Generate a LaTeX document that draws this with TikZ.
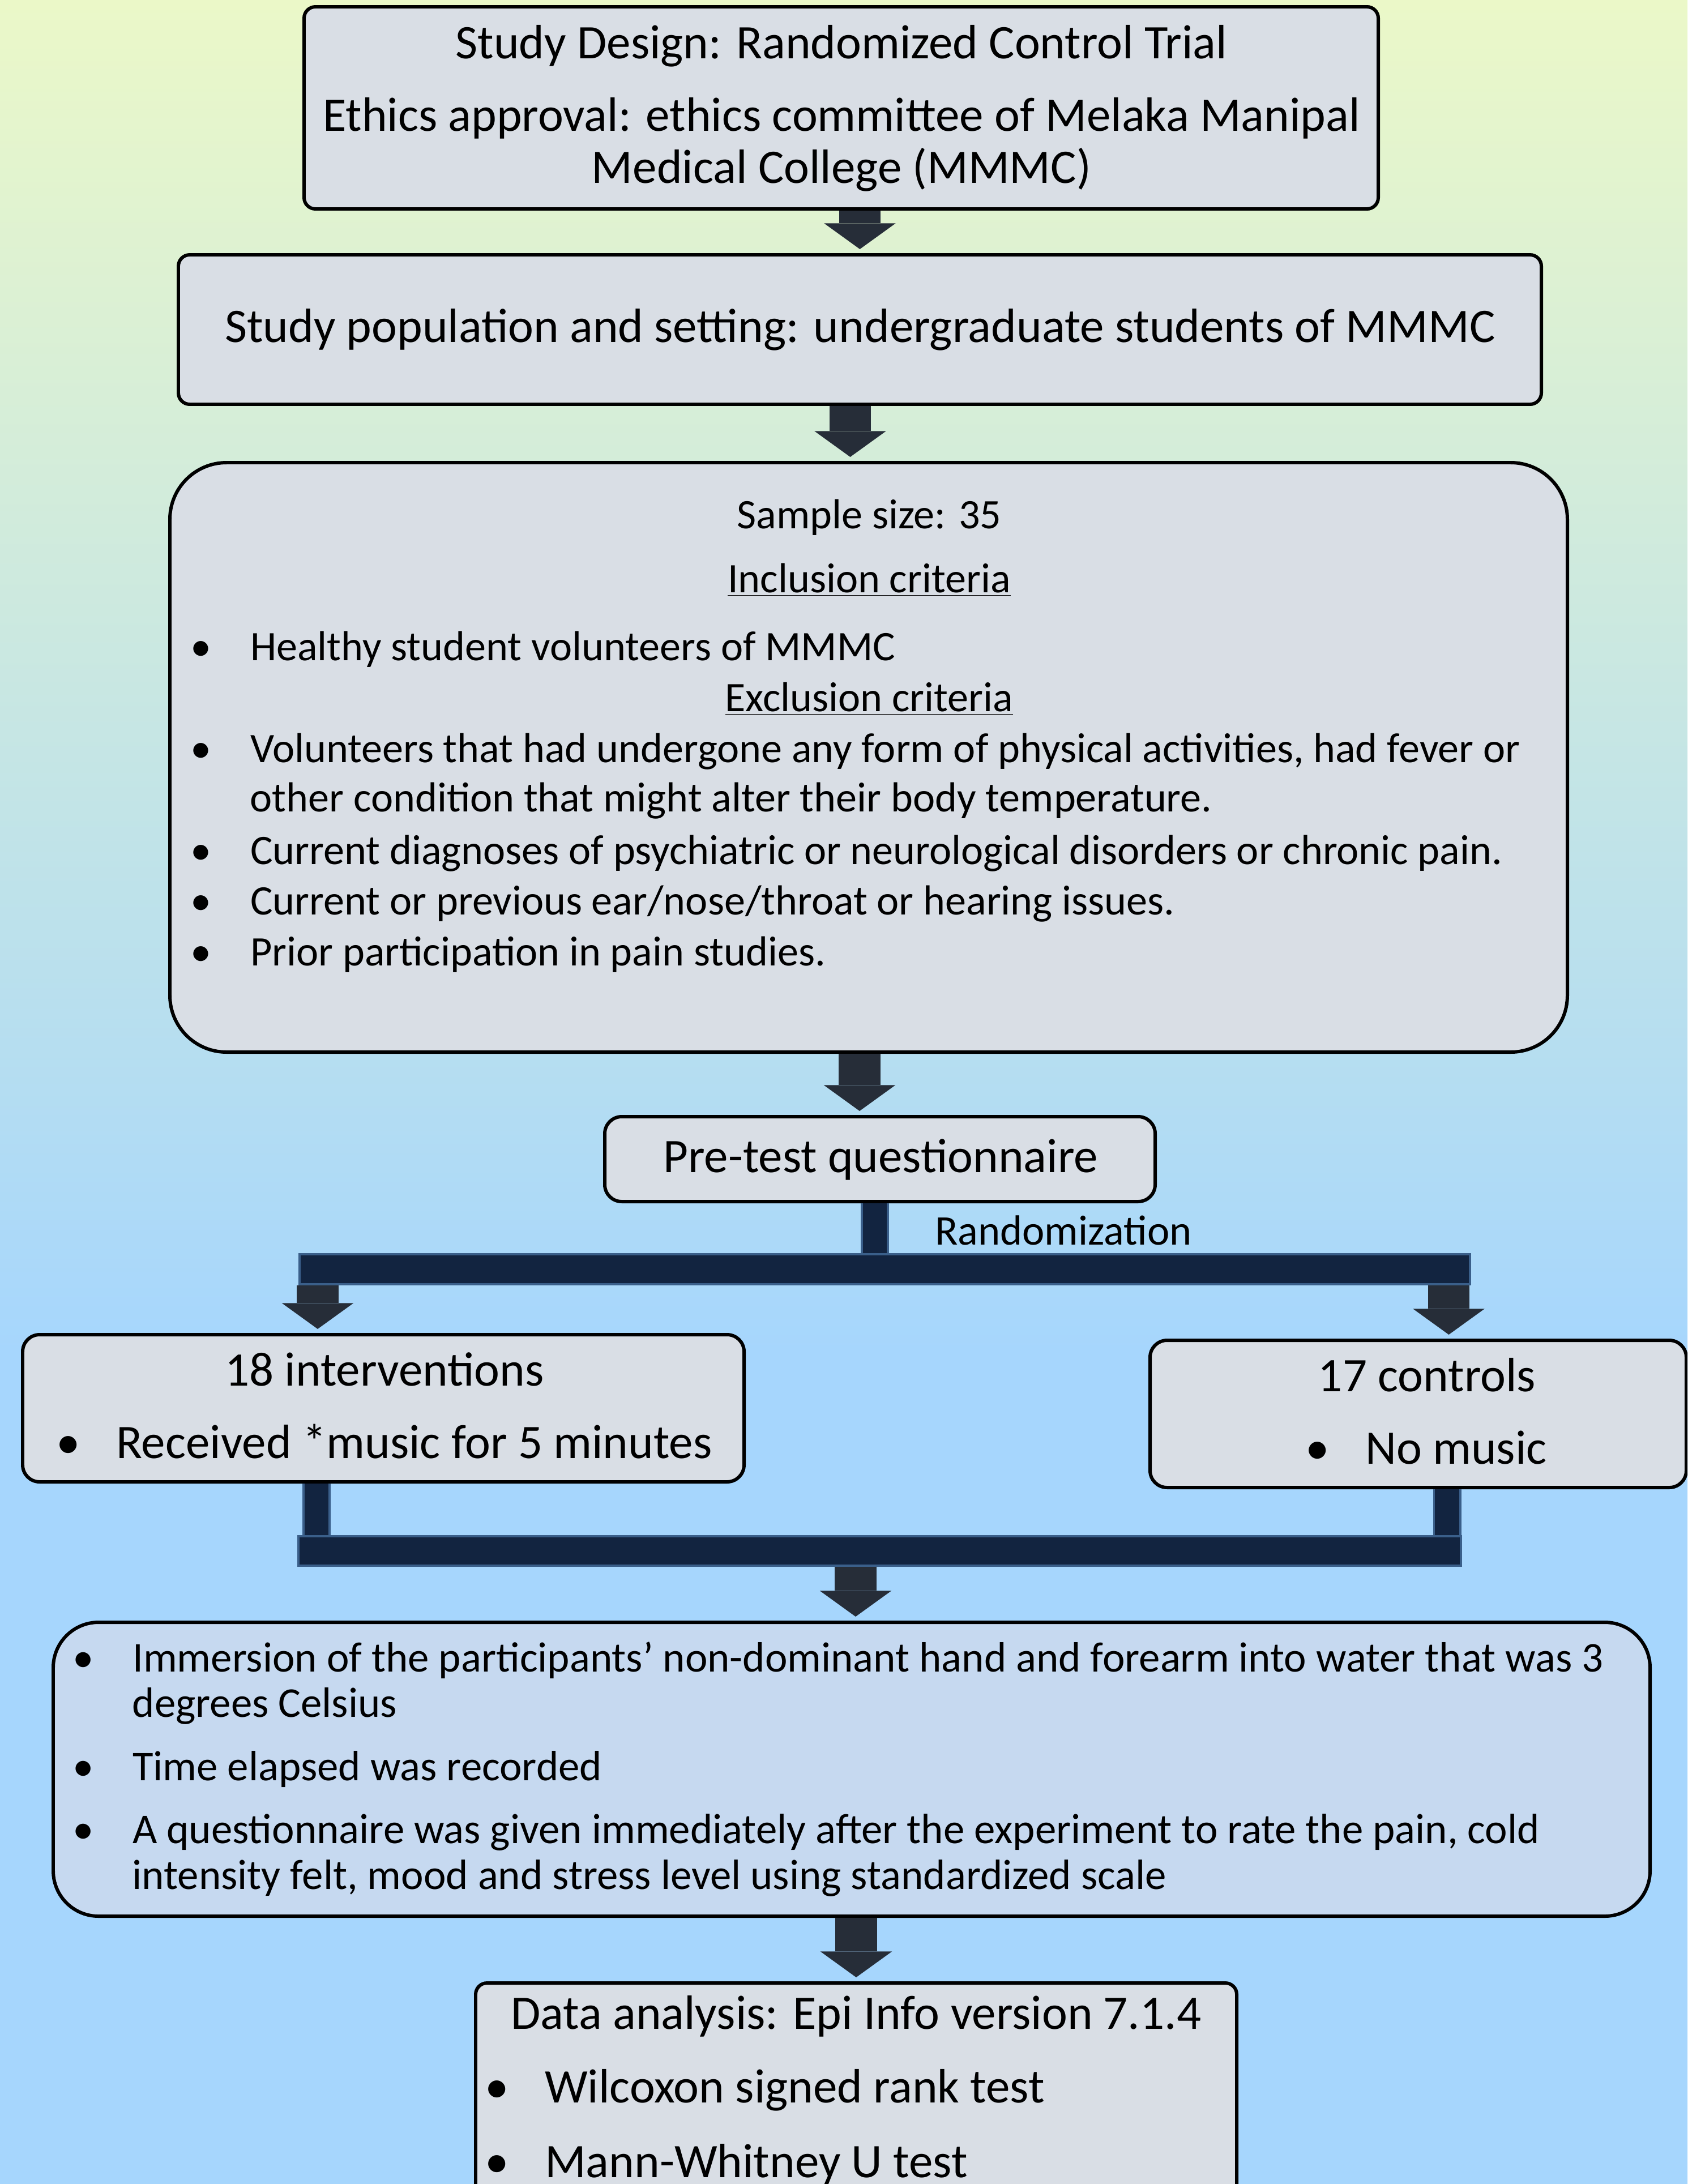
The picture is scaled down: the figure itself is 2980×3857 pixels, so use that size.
\documentclass[tikz,border=0pt]{standalone}
\usepackage{fontspec}
\setmainfont{Carlito}
\usetikzlibrary{arrows.meta,fit,calc,positioning}

\definecolor{bgtop}{RGB}{235,248,200}
\definecolor{bgmid}{RGB}{182,222,240}
\definecolor{bgbot}{RGB}{166,214,253}
\definecolor{boxgrey}{RGB}{217,222,229}
\definecolor{boxblue}{RGB}{198,217,240}
\definecolor{barfill}{RGB}{18,36,64}
\definecolor{barline}{RGB}{58,95,138}
\definecolor{arrowdark}{RGB}{38,45,56}

% the path is mapped onto 25bp..75bp of the shading
\pgfdeclareverticalshading{bgshade}{100bp}{color(0bp)=(bgbot); color(44bp)=(bgbot);
  color(51bp)=(bgmid); color(75bp)=(bgtop); color(100bp)=(bgtop)}

\newcommand{\bul}{\makebox[30pt][l]{\textbullet}}
\newcommand{\fbig}{\fontsize{24.2}{29}\selectfont}
\newcommand{\fmid}{\fontsize{21.1}{25}\selectfont}
\newcommand{\fimm}{\fontsize{21.3}{25}\selectfont}

\tikzset{
  box/.style={draw=black, line width=1.7pt, fill=boxgrey, rounded corners=0.2cm, inner sep=0pt},
  bar/.style={draw=barline, line width=1.1pt, fill=barfill, inner sep=0pt},
  stem/.style={draw=barline, line width=1.1pt, double=barfill, double distance=12pt},
  blockarrow/.style={draw=arrowdark, line width=21pt, shorten >=2pt,
    -{Triangle[length=13pt, width=36pt, line width=0pt]}},
  txt/.style={inner sep=0pt, anchor=base},
  ltxt/.style={inner sep=0pt, anchor=base west}
}

\begin{document}
\begin{tikzpicture}[x=0.01cm, y=-0.01cm]
\useasboundingbox (0,0) rectangle (2980,3857);
\clip (0,0) rectangle (2980,3857);
\shade[shading=bgshade] (0,0) rectangle (2980,3857);

% boxes
\node[box, fit={(537,12) (2434,369)}] (b1) {};
\node[box, fit={(315,450) (2722,714)}] (b2) {};
\node[box, rounded corners=1cm, fit={(300,817) (2768,1858)}] (b3) {};
\node[box, rounded corners=0.3cm, fit={(1068,1972) (2040,2122)}] (b4) {};
\node[bar, fit={(529,2215) (2596,2268)}] (split) {};
\node[box, rounded corners=0.3cm, fit={(40,2357) (1314,2617)}] (b5) {};
\node[box, rounded corners=0.3cm, fit={(2031,2367) (2978,2627)}] (b6) {};
\node[bar, fit={(527,2713) (2580,2765)}] (merge) {};
\node[box, fill=boxblue, rounded corners=0.8cm, fit={(94,2865) (2914,3384)}] (b7) {};
\node[box, fit={(840,3502) (2184,3950)}] (b8) {};

% connectors
\draw[blockarrow] (b1.south -| b2.north) -- (b2.north);
\draw[blockarrow] ($(b2.south)+(-17,0)$) -- ($(b2.south |- b3.north)+(-17,0)$);
\draw[blockarrow] ($(b3.south)+(-16,0)$) -- ($(b3.south |- b4.north)+(-16,0)$);
\draw[stem] ($(b4.south)+(-9,0)$) -- ($(b4.south |- split.north)+(-9,0)$);
\draw[blockarrow] ($(b5.north |- split.south)+(-116,0)$) -- ($(b5.north)+(-116,0)$);
\draw[blockarrow] ($(b6.north |- split.south)+(54,0)$) -- ($(b6.north)+(54,0)$);
\draw[stem] ($(b5.south)+(-118,0)$) -- ($(b5.south |- merge.north)+(-118,0)$);
\draw[stem] ($(b6.south)+(51,0)$) -- ($(b6.south |- merge.north)+(51,0)$);
\draw[blockarrow] ($(b7.north |- merge.south)+(7,0)$) -- ($(b7.north)+(7,0)$);
\draw[blockarrow] (b7.south -| b8.north) -- (b8.north);

% texts
\node[txt, font=\fbig] (design) at (1486,103) {Study Design: Randomized Control Trial};
\node[txt, font=\fbig] (ethics) at (1486,231) {Ethics approval: ethics committee of Melaka Manipal};
\node[txt, font=\fbig] (college) at (1486,323) {Medical College (MMMC)};
\node[txt, font=\fbig] (popul) at (1519,604) {Study population and setting: undergraduate students of MMMC};

\node[txt, font=\fmid] (sample) at (1535,933) {Sample size: 35};
\node[txt, font=\fmid] (incl) at (1535,1046) {\underline{Inclusion criteria}};
\node[ltxt, font=\fmid] (healthy) at (336,1166) {\bul Healthy student volunteers of MMMC};
\node[txt, font=\fmid] (excl) at (1535,1256) {\underline{Exclusion criteria}};
\node[ltxt, font=\fmid] (exa) at (336,1346) {\bul Volunteers that had undergone any form of physical activities, had fever or};
\node[ltxt, font=\fmid] (exa2) at (441,1433) {other condition that might alter their body temperature.};
\node[ltxt, font=\fmid] (exb) at (336,1526) {\bul Current diagnoses of psychiatric or neurological disorders or chronic pain.};
\node[ltxt, font=\fmid] (exc) at (336,1615) {\bul Current or previous ear/nose/throat or hearing issues.};
\node[ltxt, font=\fmid] (exd) at (336,1705) {\bul Prior participation in pain studies.};

\node[txt, font=\fbig] (pretest) at (1555,2070) {Pre-test questionnaire};
\node[txt, font=\fontsize{21.2}{25}\selectfont] (randlbl) at (1878,2198) {Randomization};

\node[txt, font=\fbig] (interv) at (679,2447) {18 interventions};
\node[ltxt, font=\fbig] (music) at (99,2575) {\bul Received *music for 5 minutes};
\node[txt, font=\fbig] (ctrl) at (2520,2457) {17 controls};
\node[ltxt, font=\fbig] (nomusic) at (2305,2585) {\bul No music};

\node[ltxt, font=\fimm] (imm) at (128,2952) {\bul Immersion of the participants’ non-dominant hand and forearm into water that was 3};
\node[ltxt, font=\fimm] (imm2) at (233,3032) {degrees Celsius};
\node[ltxt, font=\fimm] (elapsed) at (128,3144) {\bul Time elapsed was recorded};
\node[ltxt, font=\fimm] (quest) at (128,3255) {\bul A questionnaire was given immediately after the experiment to rate the pain, cold};
\node[ltxt, font=\fimm] (quest2) at (233,3336) {intensity felt, mood and stress level using standardized scale};

\node[txt, font=\fbig] (epi) at (1512,3583) {Data analysis: Epi Info version 7.1.4};
\node[ltxt, font=\fbig] (wilc) at (856,3713) {\bul Wilcoxon signed rank test};
\node[ltxt, font=\fbig] (mann) at (856,3845) {\bul Mann-Whitney U test};
\end{tikzpicture}
\end{document}
